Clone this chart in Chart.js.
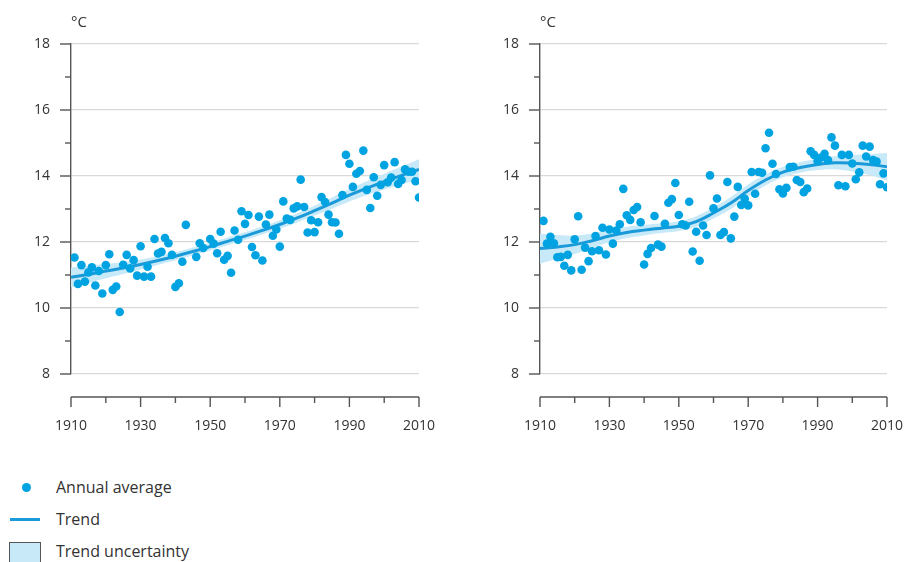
<!DOCTYPE html>
<html><head><meta charset="utf-8">
<script src="https://cdn.jsdelivr.net/npm/chart.js@4.4.1/dist/chart.umd.min.js"></script>
<style>
body{margin:0;width:906px;height:562px;overflow:hidden;background:#fff;font-family:"Open Sans",sans-serif;color:#333;position:relative}
canvas{position:absolute;top:0}
.unit{position:absolute;top:11px;font-size:15px;color:#333}
.leg{position:absolute;left:56px;font-size:16px;line-height:20px;color:#333;white-space:nowrap}
.sw{position:absolute}
</style></head>
<body>
<canvas id="c1" width="453" height="450" style="left:0"></canvas>
<canvas id="c2" width="453" height="450" style="left:453px"></canvas>
<div class="unit" style="left:71px">°C</div>
<div class="unit" style="left:540px">°C</div>

<div class="sw" style="left:22px;top:483px;width:9px;height:9px;border-radius:50%;background:#00a3e1"></div>
<div class="leg" style="top:477px">Annual average</div>
<div class="sw" style="left:10px;top:518px;width:30px;height:3px;background:#1a9ad8"></div>
<div class="leg" style="top:509px">Trend</div>
<div class="sw" style="left:9px;top:542px;width:30px;height:30px;border:1px solid #555;background:#c8e9f8"></div>
<div class="leg" style="top:541px">Trend uncertainty</div>

<script>
// ---- data ----
const years = Array.from({length:100},(_,i)=>1911+i);
const leftValues = [
11.53,10.73,11.30,10.80,11.08,11.23,10.68,11.12,10.44,11.30,
11.63,10.55,10.65,9.88,11.31,11.61,11.20,11.45,10.98,11.87,
10.95,11.25,10.95,12.09,11.65,11.70,12.12,11.96,11.61,10.64,
10.75,11.40,12.52,null,null,11.55,11.96,11.82,null,12.09,
11.95,11.66,12.31,11.46,11.58,11.07,12.35,12.07,12.93,12.55,
12.82,11.85,11.60,12.77,11.44,12.53,12.83,12.19,12.38,11.86,
13.23,12.71,12.67,13.02,13.08,13.89,13.06,12.29,12.66,12.30,
12.60,13.36,13.21,12.83,12.60,12.59,12.25,13.42,14.64,14.37,
13.67,14.07,14.15,14.77,13.58,13.03,13.96,13.40,13.73,14.33,
13.81,13.95,14.42,13.76,13.88,14.20,14.13,14.13,13.84,13.35];
const rightValues = [
12.64,11.95,12.16,11.96,11.54,11.55,11.28,11.61,11.14,12.08,
12.78,11.16,11.83,11.42,11.72,12.18,11.75,12.43,11.62,12.38,
11.95,12.35,12.54,13.61,12.81,12.67,12.97,13.06,12.60,11.32,
11.64,11.82,12.79,11.92,11.86,12.55,13.19,13.30,13.79,12.82,
12.54,12.50,13.22,11.71,12.31,11.43,12.50,12.21,14.02,13.02,
13.32,12.21,12.30,13.82,12.11,12.77,13.67,13.12,13.31,13.11,
14.12,13.46,14.12,14.10,14.84,15.31,14.37,14.06,13.60,13.47,
13.64,14.27,14.28,13.88,13.82,13.51,13.62,14.75,14.64,14.45,
14.56,14.67,14.48,15.17,14.92,13.72,14.64,13.69,14.64,14.38,
13.90,14.11,14.92,14.59,14.89,14.48,14.44,13.75,14.08,13.66];

const trendYears = [1910,1915,1920,1925,1930,1935,1940,1945,1950,1955,1960,1965,1970,1975,1980,1985,1990,1995,2000,2005,2010];
const leftTrend = [10.93,11.02,11.12,11.21,11.32,11.44,11.57,11.71,11.86,12.02,12.18,12.35,12.53,12.73,12.95,13.18,13.42,13.63,13.83,14.02,14.20];
const leftLow   = [10.63,10.76,10.90,11.03,11.17,11.31,11.45,11.59,11.74,11.90,12.06,12.23,12.40,12.59,12.80,13.01,13.23,13.42,13.59,13.75,13.89];
const leftHigh  = [11.23,11.28,11.34,11.39,11.47,11.57,11.69,11.83,11.98,12.14,12.30,12.47,12.66,12.87,13.10,13.35,13.61,13.84,14.07,14.29,14.51];
const rightTrend = [11.80,11.85,11.92,12.04,12.18,12.29,12.36,12.42,12.48,12.62,12.88,13.18,13.56,13.88,14.12,14.26,14.35,14.40,14.39,14.35,14.28];
const rightLow   = [11.34,11.49,11.64,11.82,11.99,12.12,12.20,12.27,12.33,12.46,12.71,13.00,13.38,13.71,13.96,14.10,14.18,14.20,14.14,14.03,13.86];
const rightHigh  = [12.26,12.21,12.20,12.26,12.37,12.46,12.52,12.57,12.63,12.78,13.05,13.36,13.74,14.05,14.28,14.42,14.52,14.60,14.64,14.67,14.70];

const xTicks = [1910,1920,1930,1940,1950,1960,1970,1980,1990,2000,2010];
const xLabels = [1910,1930,1950,1970,1990,2010];
const yLabels = [8,10,12,14,16,18];

// ---- styles ----
const DOT='#00a3e1', LINE='#1a9ad8', BAND='#c8e9f8', GRID='#d9d9d9', AXIS='#555', TXT='#333';
const FONT = {family:'"Open Sans", sans-serif', size:14};

const pairs = (xs, ys) => xs.map((x,i)=>({x, y: ys[i]}));

const axisPlugin = {
  id:'customAxes',
  afterDraw(chart){
    const {ctx, scales:{x,y}} = chart;
    ctx.save();
    ctx.strokeStyle = AXIS; ctx.lineWidth = 1.4;
    for (let v = 8; v <= 18; v++){
      const py = y.getPixelForValue(v);
      const len = (v % 2 === 0) ? 11 : 6;
      ctx.beginPath(); ctx.moveTo(x.left - len, py); ctx.lineTo(x.left, py); ctx.stroke();
    }
    const ay = y.getPixelForValue(8) + 23;
    ctx.beginPath(); ctx.moveTo(x.getPixelForValue(1910), ay); ctx.lineTo(x.getPixelForValue(2010), ay); ctx.stroke();
    xTicks.forEach(t=>{
      const px = x.getPixelForValue(t);
      const len = xLabels.includes(t) ? 10 : 6;
      ctx.beginPath(); ctx.moveTo(px, ay); ctx.lineTo(px, ay + len); ctx.stroke();
    });
    ctx.restore();
  }
};

function makeChart(id, values, trend, low, high, yWidth, rightPad){
  return new Chart(document.getElementById(id), {
    type:'line',
    data:{datasets:[
      {data: pairs(years, values), showLine:false, pointRadius:4.3, pointHoverRadius:4.3, pointBackgroundColor:DOT, pointBorderWidth:0, borderColor:DOT, order:0},
      {data: pairs(trendYears, trend), borderColor:LINE, borderWidth:3, pointRadius:0, tension:0.4, fill:false, order:1},
      {data: pairs(trendYears, high), borderWidth:0, borderColor:'rgba(0,0,0,0)', pointRadius:0, tension:0.4, fill:'+1', backgroundColor:BAND, order:2},
      {data: pairs(trendYears, low), borderWidth:0, borderColor:'rgba(0,0,0,0)', pointRadius:0, tension:0.4, fill:false, order:3}
    ]},
    options:{
      responsive:false, animation:false, devicePixelRatio:1,
      layout:{padding:{left:0, right:rightPad, top:44, bottom:0}},
      plugins:{legend:{display:false}, tooltip:{enabled:false}, title:{display:false}},
      scales:{
        x:{type:'linear', min:1910, max:2010,
           afterBuildTicks: s => { s.ticks = xTicks.map(v=>({value:v})); },
           afterFit: s => { s.height = 76; s.paddingLeft = 0; s.paddingRight = 0; },
           grid:{display:false, drawTicks:false}, border:{display:false},
           ticks:{autoSkip:false, maxRotation:0, padding:44, color:TXT, font:FONT,
                  callback: v => xLabels.includes(v) ? String(v) : ''}},
        y:{min:8, max:18,
           afterBuildTicks: s => { s.ticks = yLabels.map(v=>({value:v})); },
           afterFit: s => { s.width = yWidth; },
           grid:{color:GRID, lineWidth:1.2, drawTicks:false},
           border:{display:true, color:AXIS, width:1.4},
           ticks:{padding:21, color:TXT, font:FONT, callback: v => String(v)}}
      }
    },
    plugins:[axisPlugin]
  });
}

makeChart('c1', leftValues, leftTrend, leftLow, leftHigh, 71, 34);
makeChart('c2', rightValues, rightTrend, rightLow, rightHigh, 87, 19);
</script>
</body></html>
